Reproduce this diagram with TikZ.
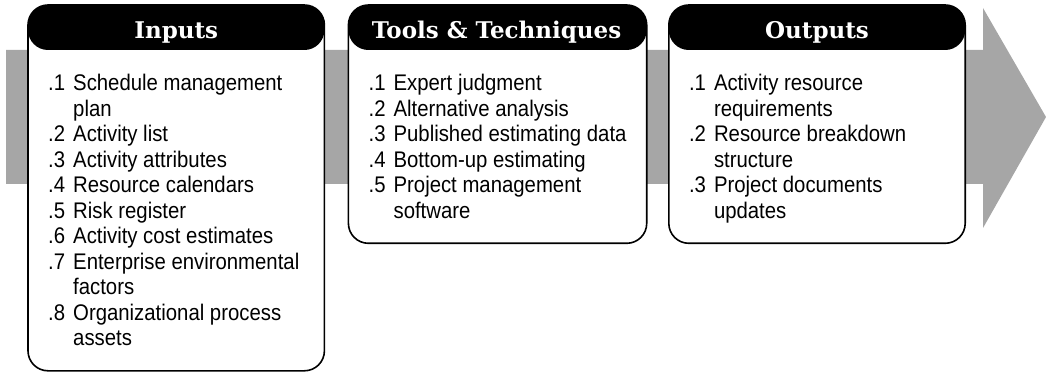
\documentclass[tikz,border=0pt]{standalone}
\usepackage{fontspec}
\setmainfont{Liberation Sans}[FakeStretch=0.9]
\newfontfamily\headfont{DejaVu Serif}
\usepackage{tikz}
\usetikzlibrary{positioning,fit,backgrounds}
\usepackage{xcolor}
\definecolor{band}{HTML}{A6A6A6}
\newcommand{\pno}[1]{\makebox[25pt][l]{\strut#1}}
\newcommand{\pcont}{\hspace*{25pt}\strut}
\tikzset{
  head/.style={font=\headfont\bfseries\fontsize{23}{27}\selectfont,text=white,minimum width=296pt,minimum height=45pt,inner sep=0pt,text height=21pt,text depth=0pt},
  body/.style={font=\fontsize{22.6}{25.5}\selectfont,align=left,inner xsep=20pt,inner ysep=17.35pt},
  panel/.style={draw=black,line width=1.6pt,fill=white,rounded corners=20pt,inner sep=0pt,
    path picture={\fill[black] (path picture bounding box.north west) rectangle ([yshift=-45pt]path picture bounding box.north east);}}
}

\begin{document}
\begin{tikzpicture}[x=1pt,y=1pt,node distance=24pt]
\useasboundingbox (0,0) rectangle (1046,372);

\node[head,anchor=north west] (inhd) at (28,367) {Inputs};
\node[head,right=of inhd] (tlhd) {Tools \& Techniques};
\node[head,right=of tlhd] (outhd) {Outputs};

\node[body,below right=4.8pt and 0pt of inhd.south west] (in) {\pno{.1}Schedule management\\\pcont plan\\\pno{.2}Activity list\\\pno{.3}Activity attributes\\\pno{.4}Resource calendars\\\pno{.5}Risk register\\\pno{.6}Activity cost estimates\\\pno{.7}Enterprise environmental\\\pcont factors\\\pno{.8}Organizational process\\\pcont assets};
\node[body,below right=4.8pt and 0pt of tlhd.south west] (tl) {\pno{.1}Expert judgment\\\pno{.2}Alternative analysis\\\pno{.3}Published estimating data\\\pno{.4}Bottom-up estimating\\\pno{.5}Project management\\\pcont software};
\node[body,below right=4.8pt and 0pt of outhd.south west] (out) {\pno{.1}Activity resource\\\pcont requirements\\\pno{.2}Resource breakdown\\\pcont structure\\\pno{.3}Project documents\\\pcont updates};

\begin{scope}[on background layer]
% grey process arrow behind the panels
\fill[band] (6,322) -- (983,322) -- (983,364) -- (1046,255) -- (983,144) -- (983,188) -- (6,188) -- cycle;
\node[panel,fit=(inhd)(in)] (inbox) {};
\node[panel,fit=(tlhd)(tl)] (tlbox) {};
\node[panel,fit=(outhd)(out)] (outbox) {};
\end{scope}
\end{tikzpicture}
\end{document}
